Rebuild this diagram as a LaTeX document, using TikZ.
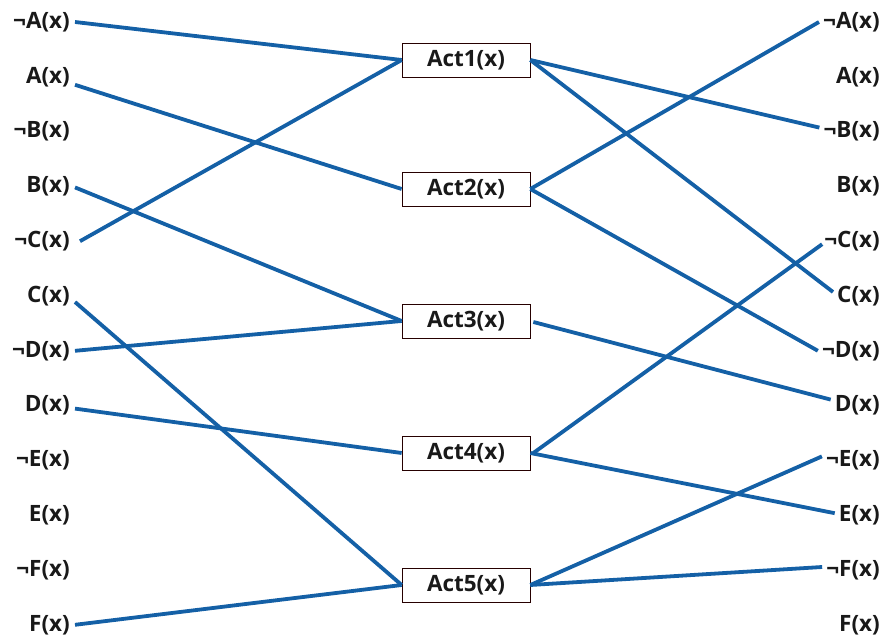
\documentclass[tikz,border=0pt]{standalone}
\usepackage{fontspec}
\setmainfont{Open Sans}
\begin{document}
\begin{tikzpicture}[x=1pt,y=-1pt,
  lit/.style={font=\bfseries\fontsize{22.5}{26}\selectfont, text=black!90, inner sep=0pt},
  litL/.style={lit, anchor=east},
  litR/.style={lit, anchor=east},
  act/.style={draw=black!50!red!30!black, line width=0.7pt, minimum width=128pt, minimum height=34pt,
              font=\bfseries\fontsize{22.5}{26}\selectfont, text=black!90, inner sep=0pt},
  wire/.style={draw={rgb,255:red,20;green,96;blue,166}, line width=3.8pt}]
\useasboundingbox (0,0) rectangle (884,639);

% literal columns
\foreach \n/\t [count=\i from 0] in {nA/{¬A(x)},pA/{A(x)},nB/{¬B(x)},pB/{B(x)},nC/{¬C(x)},pC/{C(x)},nD/{¬D(x)},pD/{D(x)},nE/{¬E(x)},pE/{E(x)},nF/{¬F(x)},pF/{F(x)}}{
  \node[litL] (L\n) at (70,{22+54.8*\i}) {\t};
  \node[litR] (R\n) at (880,{22+54.8*\i}) {\t};
}

% actions
\node[act] (a1) at (466,60) {Act1(x)};
\node[act] (a2) at (466,189) {Act2(x)};
\node[act] (a3) at (466,321) {Act3(x)};
\node[act] (a4) at (466,453) {Act4(x)};
\node[act] (a5) at (466,585) {Act5(x)};

% preconditions
\draw[wire] ([shift={(5,0)}]LnA.east) -- (a1.west);
\draw[wire] ([shift={(5,8)}]LpA.east) -- (a2.west);
\draw[wire] ([shift={(5,1)}]LpB.east) -- (a3.west);
\draw[wire] ([shift={(10,0)}]LnC.east) -- (a1.west);
\draw[wire] ([shift={(5,6)}]LpC.east) -- (a5.west);
\draw[wire] ([shift={(5,0)}]LnD.east) -- (a3.west);
\draw[wire] ([shift={(5,3)}]LpD.east) -- (a4.west);
\draw[wire] ([shift={(5,0)}]LpF.east) -- (a5.west);

% effects
\draw[wire] (a1.east) -- ([shift={(-4,-4)}]RnB.west);
\draw[wire] (a1.east) -- ([shift={(-4,-4)}]RpC.west);
\draw[wire] (a2.east) -- ([shift={(-4,0)}]RnA.west);
\draw[wire] (a2.east) -- ([shift={(-4,0)}]RnD.west);
\draw[wire] ([shift={(3,1)}]a3.east) -- ([shift={(-4,-6)}]RpD.west);
\draw[wire] ([shift={(3,0)}]a4.east) -- ([shift={(-2,3)}]RnC.west);
\draw[wire] (a4.east) -- ([shift={(-4,-2)}]RpE.west);
\draw[wire] (a5.east) -- ([shift={(-4,-4)}]RnE.west);
\draw[wire] (a5.east) -- ([shift={(-4,-3)}]RnF.west);
\end{tikzpicture}
\end{document}
